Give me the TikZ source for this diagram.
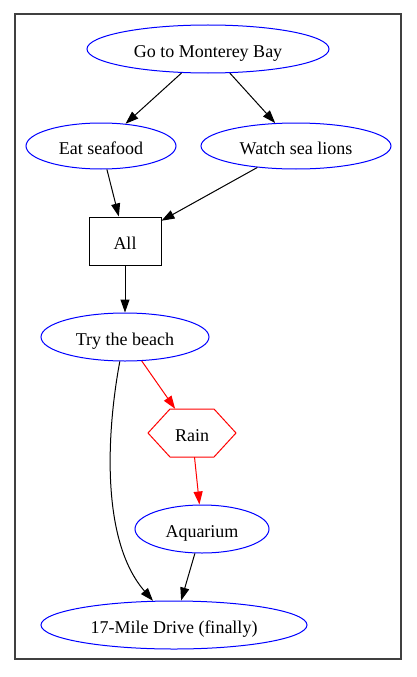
\documentclass[tikz,border=0pt]{standalone}
\usepackage{fontspec}
\setmainfont{Liberation Serif}
\usetikzlibrary{shapes.geometric,arrows.meta}
\begin{document}
\begin{tikzpicture}[x=1pt,y=-1pt,
  every node/.style={font=\fontsize{18}{20}\selectfont, inner sep=0pt, text height=17pt, text depth=0pt},
  bluenode/.style={ellipse, draw=blue, line width=1pt},
  boxnode/.style={rectangle, draw=black, line width=1pt, minimum width=72pt, minimum height=48pt},
  arr/.style={line width=1pt, -{Triangle[length=13pt,width=9pt]}},
  redarr/.style={arr, draw=red, -{Triangle[length=13pt,width=9pt,fill=red]}, color=red}
]
\useasboundingbox (0,0) rectangle (417,677);
\draw[line width=1.2pt, black!75] (15,14) rectangle (401,659);

\node[bluenode, minimum width=242pt, minimum height=48pt] (go) at (208,49) {Go to Monterey Bay};
\node[bluenode, minimum width=150pt, minimum height=46pt] (eat) at (101,146) {Eat seafood};
\node[bluenode, minimum width=190pt, minimum height=46pt] (watch) at (296,146) {Watch sea lions};
\node[boxnode] (all) at (125,241) {All};
\node[bluenode, minimum width=168pt, minimum height=48pt] (try) at (125,337) {Try the beach};
\node[rectangle, minimum width=88pt, minimum height=48pt] (rain) at (192,433) {Rain};
\draw[red, line width=1pt] ([xshift=-44pt]rain.center) -- ([xshift=-22pt,yshift=24pt]rain.center)
  -- ([xshift=22pt,yshift=24pt]rain.center) -- ([xshift=44pt]rain.center)
  -- ([xshift=22pt,yshift=-24pt]rain.center) -- ([xshift=-22pt,yshift=-24pt]rain.center) -- cycle;
\node[bluenode, minimum width=134pt, minimum height=48pt] (aqua) at (202,529) {Aquarium};
\node[bluenode, minimum width=266pt, minimum height=48pt] (drive) at (174,625) {17-Mile Drive (finally)};

\draw[arr] (go) -- (eat);
\draw[arr] (go) -- (watch);
\draw[arr] (eat) -- (all);
\draw[arr] (watch) -- (all);
\draw[arr] (all) -- (try);
\draw[redarr] (try) -- (rain);
\draw[redarr] (rain) -- (aqua);
\draw[arr] (try.258) .. controls (107,430) and (100,540) .. (drive.131);
\draw[arr] (aqua) -- (drive);
\end{tikzpicture}
\end{document}
